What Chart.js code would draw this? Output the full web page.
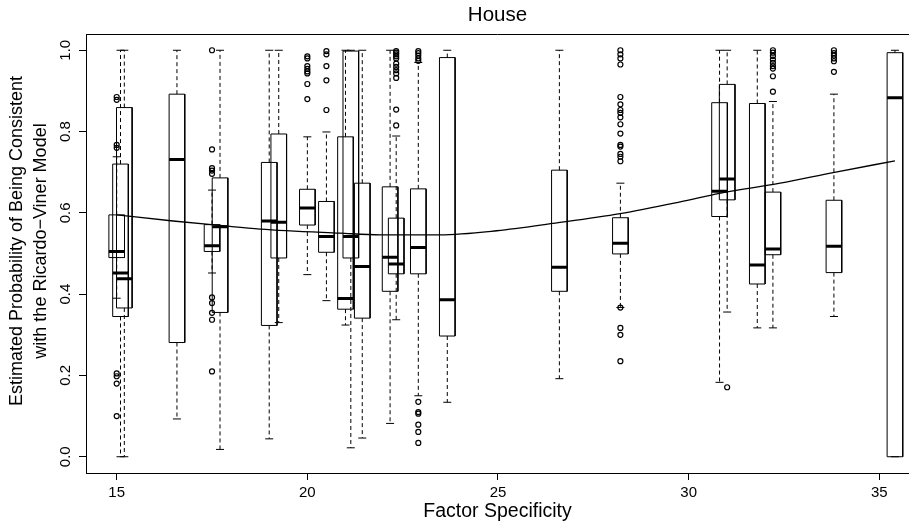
<!DOCTYPE html>
<html>
<head>
<meta charset="utf-8">
<script src="https://cdn.jsdelivr.net/npm/chart.js@4.4.1/dist/chart.umd.min.js"></script>
<style>
  html, body { margin: 0; padding: 0; background: #fff; overflow: hidden; }
  #wrap { width: 909px; height: 521px; }
</style>
</head>
<body>
<div id="wrap"><canvas id="houseChart"></canvas></div>
<script>
// Box positions (factor specificity) and box statistics
const boxX   = [15.0, 15.1, 15.2, 16.58, 17.5, 17.71, 19.0, 19.25, 20.0, 20.5, 21.0, 21.14, 21.44, 22.17, 22.33, 22.91, 23.67, 26.61, 28.21, 30.81, 31.01, 31.8, 32.21, 33.81, 35.41];
const boxLo  = [0.39, 0.0, 0.0, 0.093, 0.452, 0.018, 0.044, 0.33, 0.448, 0.384, 0.324, 0.022, 0.046, 0.082, 0.337, 0.15, 0.134, 0.192, 0.367, 0.183, 0.356, 0.317, 0.317, 0.345, 0.0];
const boxQ1  = [0.49, 0.345, 0.366, 0.281, 0.505, 0.355, 0.323, 0.489, 0.57, 0.503, 0.363, 0.489, 0.341, 0.407, 0.45, 0.45, 0.297, 0.407, 0.499, 0.591, 0.632, 0.425, 0.497, 0.453, 0.0];
const boxMed = [0.505, 0.452, 0.438, 0.731, 0.519, 0.566, 0.58, 0.577, 0.612, 0.542, 0.389, 0.542, 0.468, 0.491, 0.474, 0.515, 0.386, 0.466, 0.525, 0.653, 0.683, 0.472, 0.511, 0.518, 0.883];
const boxQ3  = [0.595, 0.72, 0.859, 0.892, 0.571, 0.686, 0.724, 0.794, 0.658, 0.628, 0.787, 0.998, 0.673, 0.664, 0.587, 0.659, 0.982, 0.705, 0.588, 0.871, 0.916, 0.869, 0.651, 0.631, 0.994];
const boxHi  = [0.738, 1.0, 1.0, 1.0, 0.656, 1.0, 1.0, 1.0, 0.787, 0.799, 1.0, 1.0, 1.0, 1.0, 0.789, 0.97, 1.0, 1.0, 0.673, 1.0, 1.0, 1.0, 0.874, 0.892, 1.0];
const boxOut = [
  [0.885, 0.878, 0.767, 0.76, 0.205, 0.198, 0.18, 0.10],
  [], [], [],
  [1.0, 0.756, 0.71, 0.704, 0.696, 0.392, 0.378, 0.354, 0.337, 0.21],
  [], [], [],
  [0.985, 0.98, 0.961, 0.954, 0.948, 0.943, 0.917, 0.88],
  [0.998, 0.99, 0.961, 0.926, 0.853],
  [], [], [], [],
  [0.998, 0.994, 0.99, 0.985, 0.98, 0.967, 0.959, 0.951, 0.943, 0.932, 0.854, 0.815],
  [0.998, 0.993, 0.987, 0.98, 0.974, 0.135, 0.11, 0.106, 0.079, 0.061, 0.034],
  [], [],
  [1.0, 0.99, 0.98, 0.965, 0.885, 0.867, 0.853, 0.846, 0.835, 0.818, 0.795, 0.767, 0.763, 0.745, 0.738, 0.727, 0.367, 0.317, 0.3, 0.235],
  [], [0.171], [],
  [1.0, 0.994, 0.986, 0.977, 0.969, 0.961, 0.955, 0.936, 0.898],
  [1.0, 0.993, 0.987, 0.98, 0.973, 0.947],
  []
];

// Fitted curve
const curveX = [15.0, 16.48, 17.71, 18.76, 20.86, 21.91, 23.48, 24.97, 26.44, 28.2, 29.78, 30.81, 32.4, 33.79, 35.41];
const curveY = [0.595, 0.58, 0.569, 0.56, 0.55, 0.546, 0.546, 0.556, 0.574, 0.598, 0.627, 0.648, 0.673, 0.699, 0.728];

const xTicks = [15, 20, 25, 30, 35];
const yTicks = [0.0, 0.2, 0.4, 0.6, 0.8, 1.0];
const yTitle = ['Estimated Probability of Being Consistent', 'with the Ricardo\u2212Viner Model'];

const FONT = '"Liberation Sans", Arial, Helvetica, sans-serif';
const boxHalf = 0.205;
const capHalf = 0.105;

// Build the line paths for boxes, medians, whiskers and staples
const gap = x => ({ x: x, y: null });
const boxPath = [], medPath = [], whiskPath = [], capPath = [], outPts = [];
boxX.forEach((x, i) => {
    const l = x - boxHalf, r = x + boxHalf;
    boxPath.push({ x: l, y: boxQ1[i] }, { x: l, y: boxQ3[i] }, { x: r, y: boxQ3[i] },
                 { x: r, y: boxQ1[i] }, { x: l, y: boxQ1[i] }, gap(x));
    medPath.push({ x: l, y: boxMed[i] }, { x: r, y: boxMed[i] }, gap(x));
    whiskPath.push({ x: x, y: boxQ3[i] }, { x: x, y: boxHi[i] }, gap(x),
                   { x: x, y: boxQ1[i] }, { x: x, y: boxLo[i] }, gap(x));
    capPath.push({ x: x - capHalf, y: boxHi[i] }, { x: x + capHalf, y: boxHi[i] }, gap(x),
                 { x: x - capHalf, y: boxLo[i] }, { x: x + capHalf, y: boxLo[i] }, gap(x));
    boxOut[i].forEach(v => outPts.push({ x: x, y: v }));
});

const segStyle = { type: 'line', borderColor: '#000', pointRadius: 0, tension: 0, fill: false, spanGaps: false };

// R-style pieces: y tick labels parallel to the axis, y title, top frame line
const rStylePlugin = {
    id: 'rStyle',
    afterDraw(chart) {
        const { ctx, chartArea, scales } = chart;
        ctx.save();
        ctx.strokeStyle = '#000';
        ctx.lineWidth = 1;
        ctx.beginPath();
        ctx.moveTo(chartArea.left, Math.round(chartArea.top) + 0.5);
        ctx.lineTo(chartArea.right, Math.round(chartArea.top) + 0.5);
        ctx.stroke();
        ctx.fillStyle = '#000';
        ctx.textAlign = 'center';
        ctx.textBaseline = 'middle';
        ctx.font = '15px ' + FONT;
        yTicks.forEach(v => {
            ctx.save();
            ctx.translate(chartArea.left - 20, scales.y.getPixelForValue(v));
            ctx.rotate(-Math.PI / 2);
            ctx.fillText(v.toFixed(1), 0, 0);
            ctx.restore();
        });
        ctx.font = '18px ' + FONT;
        yTitle.forEach((t, i) => {
            ctx.save();
            ctx.translate(17 + i * 24, 241);
            ctx.rotate(-Math.PI / 2);
            ctx.fillText(t, 0, 0);
            ctx.restore();
        });
        ctx.restore();
    }
};

new Chart(document.getElementById('houseChart'), {
    type: 'line',
    data: {
        datasets: [
            { ...segStyle, label: 'fit', data: curveX.map((x, i) => ({ x: x, y: curveY[i] })), borderWidth: 1.3, cubicInterpolationMode: 'monotone' },
            { ...segStyle, label: 'median', data: medPath, borderWidth: 3 },
            { ...segStyle, label: 'box', data: boxPath, borderWidth: 1 },
            { ...segStyle, label: 'whisker', data: whiskPath, borderWidth: 1, borderDash: [4, 3] },
            { ...segStyle, label: 'staple', data: capPath, borderWidth: 1 },
            {
                type: 'line', label: 'outliers', data: outPts, showLine: false,
                pointRadius: 2.5, pointBorderWidth: 1.2, pointBorderColor: '#000',
                pointBackgroundColor: 'rgba(0,0,0,0)', pointStyle: 'circle'
            }
        ]
    },
    options: {
        responsive: true,
        maintainAspectRatio: false,
        animation: false,
        layout: { padding: 0, autoPadding: false },
        plugins: {
            legend: { display: false },
            tooltip: { enabled: false },
            title: {
                display: true,
                fullSize: false,
                text: 'House',
                color: '#000',
                font: { family: FONT, size: 20.5, weight: 'normal', lineHeight: 1.2 },
                padding: { top: 3, bottom: 6.4 }
            }
        },
        scales: {
            x: {
                type: 'linear',
                min: 14.195,
                max: 35.779,
                afterBuildTicks: s => { s.ticks = xTicks.map(v => ({ value: v })); },
                afterFit: s => { s.height = 48; s.paddingLeft = 0; s.paddingRight = 0; },
                grid: { drawOnChartArea: false, drawTicks: true, tickLength: 7, color: '#000' },
                border: { display: true, color: '#000', width: 1 },
                ticks: { color: '#000', font: { family: FONT, size: 15 }, padding: 4, autoSkip: false, maxRotation: 0 },
                title: {
                    display: true,
                    text: 'Factor Specificity',
                    color: '#000',
                    font: { family: FONT, size: 19.5, lineHeight: 1.2 },
                    padding: { top: 0, bottom: -2 }
                }
            },
            y: {
                type: 'linear',
                min: -0.04,
                max: 1.04,
                afterBuildTicks: s => { s.ticks = yTicks.map(v => ({ value: v })); },
                afterFit: s => { s.width = 86; s.paddingTop = 0; s.paddingBottom = 0; },
                grid: { drawOnChartArea: false, drawTicks: true, tickLength: 7, color: '#000' },
                border: { display: true, color: '#000', width: 1 },
                ticks: { display: false },
                title: { display: false }
            }
        }
    },
    plugins: [rStylePlugin]
});
</script>
</body>
</html>
